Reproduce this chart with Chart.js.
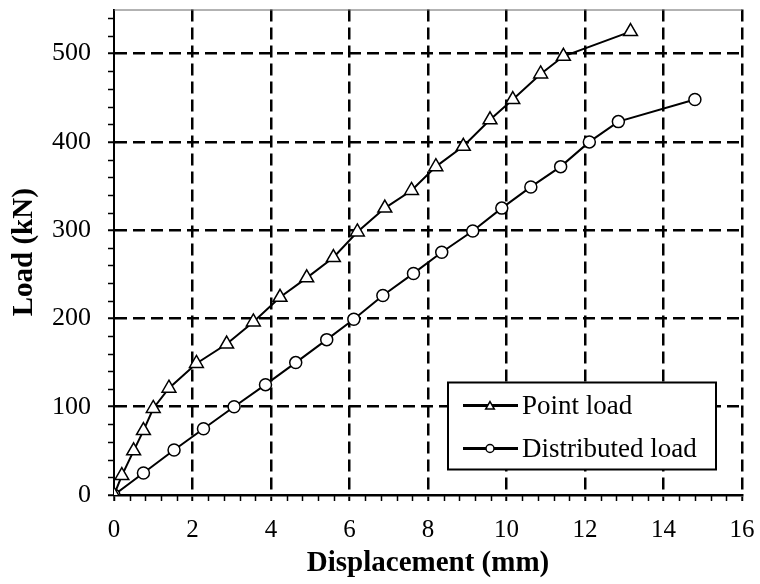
<!DOCTYPE html>
<html>
<head>
<meta charset="utf-8">
<script src="https://cdn.jsdelivr.net/npm/chart.js@4.4.1/dist/chart.umd.min.js"></script>
<style>
  html, body { margin: 0; padding: 0; background: #fff; }
</style>
</head>
<body>
<canvas id="loadChart" width="760" height="584"></canvas>
<script>
// values
const pointDisp = [0, 0.2, 0.5, 0.75, 1.0, 1.4, 2.1, 2.87, 3.55, 4.23, 4.91, 5.59, 6.2, 6.9, 7.58, 8.2, 8.9, 9.58, 10.16, 10.87, 11.45, 13.16];
const pointLoad = [0, 22, 50, 73, 98, 121, 149, 171, 196, 224, 246, 269, 298, 325, 345, 372, 395, 425, 448, 477, 497, 525];

const distDisp = [0, 0.75, 1.53, 2.28, 3.06, 3.86, 4.63, 5.42, 6.11, 6.85, 7.63, 8.35, 9.14, 9.88, 10.62, 11.38, 12.11, 12.85, 14.8];
const distLoad = [0, 25, 51, 75, 100, 125, 150, 176, 199, 226, 251, 275, 299, 325, 349, 372, 400, 423, 448];

const xTicks = [0, 2, 4, 6, 8, 10, 12, 14, 16];
const yTicks = [0, 100, 200, 300, 400, 500];

const seriesNames = ['Point load', 'Distributed load'];

const FONT = '"Liberation Serif", "Times New Roman", serif';

function toPoints(xs, ys) {
    return xs.map((x, i) => ({ x: x, y: ys[i] }));
}

// minor tick marks outside the axes
const minorTicks = {
    id: 'minorTicks',
    afterDraw(chart) {
        const { ctx, chartArea, scales } = chart;
        ctx.save();
        ctx.strokeStyle = '#000';
        ctx.lineWidth = 1.5;
        ctx.beginPath();
        for (let v = 20; v < 550; v += 20) {
            if (v % 100 === 0) continue;
            const py = Math.round(scales.y.getPixelForValue(v)) + 0.5;
            ctx.moveTo(chartArea.left - 6, py);
            ctx.lineTo(chartArea.left, py);
        }
        for (let i = 1; i < 40; i++) {
            if (i % 5 === 0) continue;
            const px = Math.round(scales.x.getPixelForValue(i * 0.4)) + 0.5;
            ctx.moveTo(px, chartArea.bottom);
            ctx.lineTo(px, chartArea.bottom + 6);
        }
        ctx.stroke();
        // thin top frame
        ctx.strokeStyle = '#666';
        ctx.lineWidth = 1;
        ctx.beginPath();
        ctx.moveTo(chartArea.left, chartArea.top + 0.5);
        ctx.lineTo(chartArea.right, chartArea.top + 0.5);
        ctx.stroke();
        ctx.restore();
    }
};

// boxed legend inside the plot
const legendBox = {
    id: 'legendBox',
    afterDatasetsDraw(chart) {
        const { ctx, chartArea } = chart;
        const bx = chartArea.left + 334, by = chartArea.top + 373, bw = 268, bh = 87;
        ctx.save();
        ctx.fillStyle = '#fff';
        ctx.fillRect(bx, by, bw, bh);
        ctx.strokeStyle = '#000';
        ctx.lineWidth = 2;
        ctx.strokeRect(bx, by, bw, bh);
        ctx.font = '27px ' + FONT;
        ctx.textBaseline = 'middle';
        ctx.textAlign = 'left';
        chart.data.datasets.forEach((ds, i) => {
            const cy = by + 23 + i * 43;
            ctx.strokeStyle = '#000';
            ctx.lineWidth = 3;
            ctx.beginPath();
            ctx.moveTo(bx + 15, cy);
            ctx.lineTo(bx + 70, cy);
            ctx.stroke();
            ctx.fillStyle = '#fff';
            ctx.lineWidth = 1.5;
            Chart.helpers.drawPoint(ctx, {
                pointStyle: ds.pointStyle,
                radius: ds.pointStyle === 'triangle' ? 5 : 4,
                borderWidth: 1.5
            }, bx + 42, cy + (ds.pointStyle === 'triangle' ? 1 : 0));
            ctx.fillStyle = '#000';
            ctx.fillText(ds.label, bx + 74, cy + 1);
        });
        ctx.restore();
    }
};

const markerDefaults = {
    borderColor: '#000',
    borderWidth: 2,
    pointBackgroundColor: '#fff',
    pointBorderColor: '#000',
    pointBorderWidth: 1.5,
    tension: 0,
    fill: false
};

new Chart(document.getElementById('loadChart'), {
    type: 'line',
    data: {
        datasets: [
            Object.assign({
                label: seriesNames[0],
                data: toPoints(pointDisp, pointLoad),
                pointStyle: 'triangle',
                pointRadius: 8
            }, markerDefaults),
            Object.assign({
                label: seriesNames[1],
                data: toPoints(distDisp, distLoad),
                pointStyle: 'circle',
                pointRadius: 6
            }, markerDefaults)
        ]
    },
    options: {
        responsive: false,
        animation: false,
        layout: { padding: { top: 8, right: 18, left: 0, bottom: 0 } },
        plugins: {
            legend: { display: false },
            tooltip: { enabled: false }
        },
        scales: {
            x: {
                type: 'linear',
                min: 0,
                max: 16,
                afterBuildTicks: (scale) => { scale.ticks = xTicks.map(v => ({ value: v })); },
                afterFit: (scale) => {
                    scale.height = 89;
                    scale.paddingLeft = 0;
                    scale.paddingRight = 0;
                },
                ticks: {
                    color: '#000',
                    padding: 14,
                    font: { family: FONT, size: 25 }
                },
                grid: {
                    color: (c) => (c.tick && c.tick.value === 0) ? 'rgba(0,0,0,0)' : '#000',
                    lineWidth: 2.5,
                    tickLength: 6,
                    tickColor: '#000',
                    tickWidth: 2,
                    tickBorderDash: []
                },
                border: { display: true, color: '#000', width: 2.5, dash: [12, 6] },
                title: {
                    display: true,
                    text: 'Displacement (mm)',
                    color: '#000',
                    padding: { top: 0, bottom: 3 },
                    font: { family: FONT, size: 29, weight: 'bold' }
                }
            },
            y: {
                type: 'linear',
                min: 0,
                max: 550,
                afterBuildTicks: (scale) => { scale.ticks = yTicks.map(v => ({ value: v })); },
                afterFit: (scale) => {
                    scale.width = 114;
                    scale.paddingTop = 0;
                    scale.paddingBottom = 0;
                },
                ticks: {
                    color: '#000',
                    padding: 17,
                    font: { family: FONT, size: 26 }
                },
                grid: {
                    color: (c) => (c.tick && c.tick.value === 0) ? 'rgba(0,0,0,0)' : '#000',
                    lineWidth: 2.5,
                    tickLength: 6,
                    tickColor: '#000',
                    tickWidth: 2,
                    tickBorderDash: []
                },
                border: { display: true, color: '#000', width: 2, dash: [12, 6] },
                title: {
                    display: true,
                    text: 'Load (kN)',
                    color: '#000',
                    padding: { top: 7, bottom: 0 },
                    font: { family: FONT, size: 29, weight: 'bold' }
                }
            }
        }
    },
    plugins: [minorTicks, legendBox]
});
</script>
</body>
</html>
